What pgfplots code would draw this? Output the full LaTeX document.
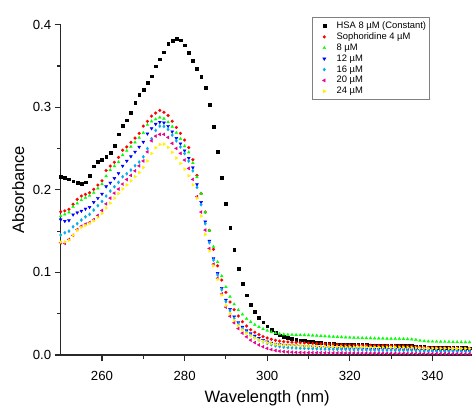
\documentclass[border=0pt]{standalone}
\usepackage{fontspec}
\setmainfont{Liberation Sans}
\usepackage{pgfplots}
\usepackage{pgfplotstable}
\pgfplotsset{compat=1.18}
\pgfplotstableread{
x k r g b c m y
250 .2160 .1735 .1683 .1640 .1453 .1360 .1368
251 .2147 .1745 .1703 .1622 .1480 .1352 .1370
252 .2130 .1765 .1727 .1630 .1500 .1400 .1392
253 .2105 .1825 .1796 .1700 .1553 .1450 .1450
254 .2086 .1885 .1836 .1725 .1590 .1520 .1510
255 .2072 .1925 .1877 .1745 .1634 .1560 .1545
256 .2094 .1945 .1905 .1770 .1674 .1585 .1570
257 .2175 .1965 .1930 .1790 .1703 .1605 .1595
258 .2288 .2006 .1965 .1850 .1755 .1640 .1625
259 .2345 .2058 .2018 .1900 .1808 .1690 .1665
260 .2369 .2110 .2070 .1950 .1860 .1750 .1715
261 .2400 .2235 .2167 .2040 .1925 .1830 .1780
262 .2450 .2288 .2240 .2085 .1985 .1900 .1840
263 .2534 .2333 .2288 .2140 .2038 .1960 .1900
264 .2675 .2393 .2337 .2200 .2090 .2010 .1955
265 .2780 .2480 .2421 .2290 .2159 .2070 .2010
266 .2845 .2520 .2473 .2350 .2195 .2125 .2060
267 .2933 .2575 .2522 .2405 .2240 .2175 .2110
268 .3060 .2627 .2575 .2460 .2292 .2230 .2160
269 .3150 .2684 .2631 .2520 .2337 .2290 .2210
270 .3217 .2772 .2690 .2580 .2400 .2350 .2270
271 .3300 .2829 .2788 .2680 .2500 .2460 .2350
272 .3378 .2893 .2830 .2744 .2620 .2594 .2440
273 .3499 .2930 .2855 .2797 .2720 .2651 .2510
274 .3584 .2962 .2877 .2821 .2772 .2672 .2550
275 .3668 .2940 .2862 .2813 .2768 .2672 .2554
276 .3773 .2900 .2820 .2772 .2732 .2635 .2514
277 .3810 .2831 .2765 .2705 .2663 .2563 .2455
278 .3834 .2756 .2692 .2625 .2594 .2502 .2385
279 .3814 .2684 .2618 .2560 .2520 .2442 .2320
280 .3753 .2603 .2530 .2475 .2440 .2361 .2250
281 .3665 .2512 .2455 .2385 .2350 .2260 .2170
282 .3563 .2365 .2325 .2270 .2230 .2127 .2060
283 .3470 .2175 .2155 .2066 .2030 .1917 .1900
284 .3370 .1957 .1955 .1850 .1820 .1731 .1683
285 .3236 .1731 .1727 .1614 .1590 .1513 .1460
286 .3035 .1510 .1505 .1380 .1360 .1290 .1260
287 .2769 .1280 .1311 .1170 .1150 .1100 .1080
288 .2466 .1080 .1126 .0990 .0970 .0930 .0915
289 .2146 .0908 .0956 .0810 .0790 .0740 .0726
290 .1836 .0759 .0823 .0666 .0645 .0580 .0600
291 .1543 .0642 .0706 .0555 .0535 .0470 .0500
292 .1280 .0549 .0614 .0464 .0444 .0390 .0420
293 .1050 .0472 .0545 .0395 .0375 .0320 .0355
294 .0868 .0403 .0492 .0340 .0320 .0265 .0305
295 .0725 .0351 .0440 .0298 .0275 .0220 .0265
296 .0614 .0306 .0400 .0262 .0240 .0180 .0232
297 .0529 .0275 .0367 .0232 .0210 .0150 .0205
298 .0455 .0246 .0339 .0205 .0183 .0122 .0182
299 .0398 .0222 .0315 .0180 .0160 .0100 .0163
300 .0350 .0206 .0295 .0160 .0140 .0080 .0149
301 .0306 .0190 .0278 .0145 .0125 .0066 .0138
302 .0270 .0178 .0266 .0135 .0112 .0055 .0130
303 .0240 .0168 .0256 .0127 .0102 .0047 .0125
304 .0222 .0162 .0250 .0121 .0095 .0041 .0121
305 .0210 .0158 .0246 .0117 .0090 .0037 .0118
306 .0197 .0155 .0244 .0114 .0087 .0034 .0116
307 .0188 .0152 .0243 .0112 .0085 .0032 .0114
308 .0180 .0149 .0242 .0110 .0083 .0030 .0112
309 .0173 .0146 .0241 .0107 .0081 .0029 .0110
310 .0166 .0143 .0240 .0104 .0079 .0028 .0108
311 .0159 .0140 .0237 .0101 .0077 .0028 .0107
312 .0152 .0138 .0234 .0098 .0075 .0027 .0106
313 .0146 .0136 .0231 .0095 .0073 .0027 .0105
314 .0140 .0134 .0228 .0092 .0071 .0026 .0104
315 .0135 .0132 .0225 .0089 .0070 .0026 .0103
316 .0134 .0130 .0222 .0087 .0069 .0025 .0102
317 .0132 .0128 .0219 .0085 .0068 .0025 .0101
318 .0130 .0126 .0216 .0083 .0067 .0025 .0100
319 .0128 .0124 .0214 .0081 .0066 .0024 .0100
320 .0126 .0122 .0212 .0079 .0065 .0024 .0099
321 .0125 .0121 .0210 .0078 .0064 .0024 .0098
322 .0124 .0120 .0208 .0077 .0063 .0023 .0098
323 .0123 .0119 .0206 .0076 .0063 .0023 .0097
324 .0122 .0118 .0205 .0075 .0062 .0023 .0097
325 .0121 .0117 .0204 .0074 .0061 .0022 .0096
326 .0120 .0116 .0202 .0073 .0061 .0022 .0095
327 .0119 .0115 .0201 .0072 .0060 .0021 .0095
328 .0118 .0114 .0200 .0071 .0059 .0021 .0094
329 .0117 .0113 .0198 .0071 .0059 .0020 .0094
330 .0116 .0112 .0197 .0070 .0058 .0020 .0093
331 .0115 .0111 .0196 .0069 .0058 .0020 .0093
332 .0114 .0110 .0195 .0069 .0057 .0019 .0092
333 .0113 .0109 .0194 .0068 .0057 .0019 .0092
334 .0112 .0108 .0192 .0067 .0056 .0019 .0091
335 .0110 .0106 .0190 .0066 .0055 .0018 .0090
336 .0106 .0102 .0184 .0062 .0052 .0018 .0086
337 .0101 .0097 .0174 .0058 .0049 .0017 .0083
338 .0098 .0094 .0168 .0057 .0048 .0017 .0082
339 .0095 .0091 .0165 .0056 .0047 .0016 .0081
340 .0094 .0090 .0163 .0055 .0047 .0016 .0081
341 .0093 .0089 .0162 .0055 .0046 .0016 .0080
342 .0092 .0088 .0161 .0054 .0046 .0015 .0080
343 .0091 .0087 .0160 .0054 .0045 .0015 .0080
344 .0090 .0086 .0159 .0053 .0045 .0015 .0079
345 .0089 .0085 .0158 .0053 .0045 .0014 .0079
346 .0088 .0084 .0157 .0052 .0044 .0014 .0078
347 .0087 .0083 .0156 .0052 .0044 .0014 .0078
348 .0086 .0082 .0155 .0051 .0044 .0013 .0078
349 .0084 .0080 .0154 .0051 .0043 .0013 .0077
350 .0083 .0079 .0153 .0050 .0043 .0013 .0077
}\data
\definecolor{axisgray}{RGB}{40,40,40}
\pgfplotsset{mk/.style={only marks, every mark/.append style={line width=0.2pt},
  legend image code/.code={\path[draw=none,fill=none] (0pt,-1pt) rectangle (21pt,1pt); \draw[##1] plot coordinates {(10.7pt,0pt)};}}}
\begin{document}
\begin{tikzpicture}
\begin{axis}[
  scale only axis,
  width=413pt, height=330.3pt,
  xmin=250, xmax=350, ymin=0, ymax=0.4,
  clip=false,
  axis x line*=bottom, axis y line*=left,
  axis line style={line width=1.1pt, axisgray, -},
  xtick={260,280,300,320,340},
  minor xtick={270,290,310,330},
  ytick={0,0.1,0.2,0.3,0.4},
  minor ytick={0.05,0.15,0.25,0.35},
  tick align=outside,
  major tick length=6pt, minor tick length=3.5pt,
  every tick/.style={line width=1.1pt, axisgray},
  /pgf/number format/assume math mode=true,
  yticklabel style={/pgf/number format/fixed, /pgf/number format/fixed zerofill, /pgf/number format/precision=1},
  ticklabel style={font=\fontsize{13.2}{15}\selectfont},
  xticklabel style={yshift=-7pt},
  xlabel={Wavelength (nm)}, ylabel={Absorbance},
  label style={font=\fontsize{16.5}{19}\selectfont},
  xlabel style={at={(axis description cs:0.5,-0.1435)}, anchor=base},
  ylabel style={at={(axis description cs:-0.1027,0.5)}, anchor=center},
  legend cell align=left,
  legend style={at={(axis description cs:0.6092,1.0224)}, anchor=north west,
    draw=gray, line width=0.6pt, font=\fontsize{9.4}{11}\selectfont,
    row sep=-1.2pt, inner xsep=1pt, inner ysep=2pt},
]
\coordinate (O) at (rel axis cs:0,0);
\addplot[mk, black, mark=square*, mark size=1.4pt] table[x=x,y=k]{\data};
\addlegendentry{HSA 8 µM (Constant)}
\addplot[mk, red, mark=*, mark size=1.5pt] table[x=x,y=r]{\data};
\addlegendentry{Sophoridine 4 µM}
\addplot[mk, green, mark=triangle*, mark size=1.7pt] table[x=x,y=g]{\data};
\addlegendentry{8 µM}
\addplot[mk, blue, mark=triangle*, mark size=1.7pt, mark options={rotate=180}] table[x=x,y=b]{\data};
\addlegendentry{12 µM}
\addplot[mk, cyan, mark=diamond*, mark size=1.7pt] table[x=x,y=c]{\data};
\addlegendentry{16 µM}
\addplot[mk, magenta, mark=triangle*, mark size=1.7pt, mark options={rotate=90}] table[x=x,y=m]{\data};
\addlegendentry{20 µM}
\addplot[mk, yellow, mark=triangle*, mark size=1.7pt, mark options={rotate=-90}] table[x=x,y=y]{\data};
\addlegendentry{24 µM}
\end{axis}
\pgfresetboundingbox
\path[use as bounding box] ([xshift=-60.7pt,yshift=-50pt]O) rectangle ([xshift=411.3pt,yshift=355pt]O);
\end{tikzpicture}
\end{document}
